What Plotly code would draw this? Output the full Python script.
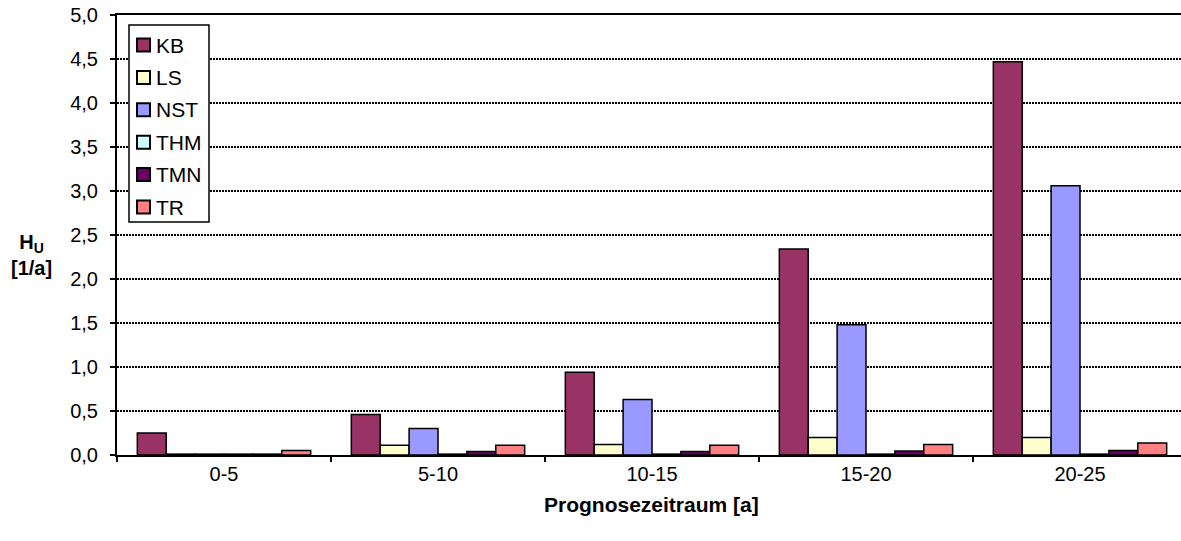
import plotly.graph_objects as go

categories = ["0-5", "5-10", "10-15", "15-20", "20-25"]
series_names = ["KB", "LS", "NST", "THM", "TMN", "TR"]
kb = [0.25, 0.46, 0.94, 2.34, 4.47]
ls = [0.01, 0.11, 0.12, 0.20, 0.20]
nst = [0.01, 0.30, 0.63, 1.48, 3.06]
thm = [0.01, 0.01, 0.01, 0.01, 0.01]
tmn = [0.01, 0.04, 0.04, 0.045, 0.05]
tr = [0.05, 0.11, 0.11, 0.12, 0.135]
colors = ["#993366", "#FFFFCC", "#9999FF", "#CCFFFF", "#660066", "#FF8080"]

series_values = [kb, ls, nst, thm, tmn, tr]

FONT = "Liberation Sans, Arial, sans-serif"

fig = go.Figure()
for name, vals, col in zip(series_names, series_values, colors):
    fig.add_trace(go.Bar(
        x=categories, y=vals, name=name, showlegend=False,
        marker=dict(color=col, line=dict(color="black", width=1.5)),
    ))

W, H = 1181, 541
L, R, T, B = 117, 0, 15, 86
pw = W - L - R
ph = H - T - B


def px_x(p):
    return (p - L) / pw


def px_y(p):
    return (H - B - p) / ph


# custom legend box (Excel style)
shapes = [dict(type="rect", xref="paper", yref="paper",
               x0=px_x(129), x1=px_x(209), y0=px_y(222), y1=px_y(25),
               line=dict(color="black", width=1.5), fillcolor="white", layer="above")]
annotations = []
for i, (name, col) in enumerate(zip(series_names, colors)):
    cy = 45 + 32.4 * i
    shapes.append(dict(type="rect", xref="paper", yref="paper",
                       x0=px_x(137), x1=px_x(150), y0=px_y(cy + 6.5), y1=px_y(cy - 6.5),
                       line=dict(color="black", width=2), fillcolor=col, layer="above"))
    annotations.append(dict(text=name, xref="paper", yref="paper",
                            x=px_x(154), y=px_y(cy), showarrow=False,
                            xanchor="left", yanchor="middle",
                            font=dict(family=FONT, size=21, color="black")))

annotations += [
    dict(text="<b>H<sub>U</sub><br>[1/a]</b>", xref="paper", yref="paper",
         x=px_x(31), y=px_y(255), showarrow=False, xanchor="center", yanchor="middle",
         font=dict(family=FONT, size=20, color="black")),
    dict(text="<b>Prognosezeitraum [a]</b>", xref="paper", yref="paper",
         x=px_x(651), y=px_y(504), showarrow=False, xanchor="center", yanchor="middle",
         font=dict(family=FONT, size=21, color="black")),
]

fig.update_layout(
    width=W, height=H,
    margin=dict(l=L, r=R, t=T, b=B, pad=0),
    paper_bgcolor="white", plot_bgcolor="white",
    barmode="group", bargap=0.19, bargroupgap=0,
    separators=",.",
    font=dict(family=FONT, size=20, color="black"),
    showlegend=False,
    xaxis=dict(
        range=[-0.5, 4.5 - 6 / 214], showline=True, linecolor="black", linewidth=2,
        mirror=True, ticks="outside", ticklen=5, tickwidth=1.5, tickcolor="black",
        tickson="boundaries", showgrid=False,
        tickfont=dict(family=FONT, size=20, color="black"),
    ),
    yaxis=dict(
        range=[0, 5], dtick=0.5, tickformat=".1f", showline=True, linecolor="black",
        linewidth=2, ticks="outside", ticklen=5, tickwidth=1.5, tickcolor="black",
        showgrid=True, gridcolor="black", gridwidth=1.5, griddash="2px,1px",
        zeroline=False, ticklabelstandoff=8,
        tickfont=dict(family=FONT, size=20, color="black"),
    ),
    shapes=shapes,
    annotations=annotations,
)

fig.write_html("out.html", config={"displayModeBar": False},
               post_script="document.body.style.margin='0px';document.body.style.overflow='hidden';")
